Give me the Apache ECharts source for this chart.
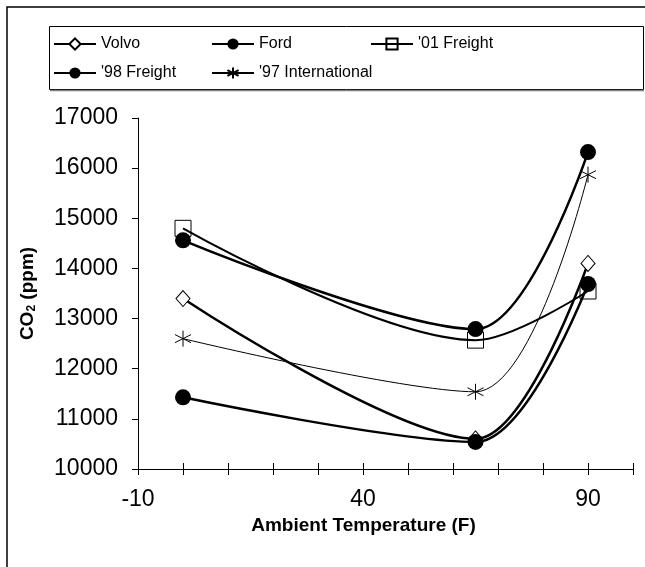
<!DOCTYPE html>
<html>
<head>
<meta charset="utf-8">
<script src="https://cdn.jsdelivr.net/npm/echarts@6/dist/echarts.min.js"></script>
<style>
  html, body { margin: 0; padding: 0; background: #fff; }
  #chart { width: 645px; height: 567px; }
</style>
</head>
<body>
<div id="chart"></div>
<script>
// Ambient temperature (F) at which each truck was measured
const temps = [0, 65, 90];

// CO2 readings (ppm) per truck
const volvo = [13400, 10600, 14100];
const ford = [11430, 10540, 13690];
const freight01 = [14800, 12570, 13550];
const freight98 = [14560, 12790, 16320];
const intl97 = [12600, 11540, 15870];

const seriesNames = ['Volvo', 'Ford', "'01 Freight", "'98 Freight", "'97 International"];

// X axis labels shown only at these values
const xLabelValues = [-10, 40, 90];

const FONT = '"Liberation Sans", Arial, sans-serif';
const STAR = 'path://M50,0L50,100M6,25L94,75M6,75L94,25';

function pairs(ys) {
  return temps.map((t, i) => [t, ys[i]]);
}

function lineSeries(name, ys, opts) {
  return {
    name: name,
    type: 'line',
    data: pairs(ys),
    smooth: 0.32,
    symbol: opts.symbol,
    symbolSize: opts.size,
    showAllSymbol: true,
    lineStyle: { color: '#000', width: opts.width },
    itemStyle: {
      color: opts.fill,
      borderColor: '#000',
      borderWidth: opts.border
    },
    emphasis: { disabled: true },
    animation: false,
    z: 3
  };
}

function legendAt(name, left, top) {
  return {
    data: [name],
    left: left,
    top: top,
    padding: 0,
    orient: 'horizontal',
    itemWidth: 42,
    itemHeight: 14,
    itemGap: 0,
    selectedMode: false,
    textStyle: { fontFamily: FONT, fontSize: 16, color: '#000' }
  };
}

const chart = echarts.init(document.getElementById('chart'), null, { renderer: 'canvas' });

const tickStyle = { color: '#000', width: 1 };

chart.setOption({
  backgroundColor: '#fff',
  animation: false,
  graphic: [
    {
      type: 'rect',
      shape: { x: 7, y: 7, width: 680, height: 600 },
      style: { fill: 'none', stroke: '#000', lineWidth: 1.5 },
      z: 0
    },
    {
      type: 'rect',
      shape: { x: 49.5, y: 26.5, width: 594, height: 63 },
      style: { fill: '#fff', stroke: '#000', lineWidth: 1 },
      z: 0
    },
    {
      type: 'line',
      shape: { x1: 50, y1: 90.5, x2: 644, y2: 90.5 },
      style: { stroke: '#808080', lineWidth: 1.5 },
      z: 0
    }
  ],
  legend: [
    legendAt(seriesNames[0], 53, 36),
    legendAt(seriesNames[1], 211, 36),
    legendAt(seriesNames[2], 370, 36),
    legendAt(seriesNames[3], 53, 65),
    legendAt(seriesNames[4], 211, 65)
  ],
  grid: { left: 138, right: 12, top: 118, bottom: 98, containLabel: false },
  xAxis: [
    {
      type: 'value',
      min: -10,
      max: 100,
      interval: 10,
      name: 'Ambient Temperature (F)',
      nameLocation: 'middle',
      nameGap: 37,
      nameTextStyle: {
        fontFamily: FONT, fontSize: 19, fontWeight: 'bold', color: '#000',
        padding: [0, 44, 0, 0]
      },
      axisLine: { show: true, onZero: false, lineStyle: { color: '#000', width: 1 } },
      axisTick: { show: true, inside: false, length: 6, lineStyle: tickStyle },
      axisLabel: {
        fontFamily: FONT, fontSize: 23, color: '#000', margin: 19,
        formatter: v => (xLabelValues.indexOf(v) >= 0 ? String(v) : '')
      },
      splitLine: { show: false }
    },
    {
      // upper halves of the crossing tick marks
      type: 'value',
      min: -10,
      max: 100,
      interval: 10,
      position: 'bottom',
      offset: -6,
      axisLine: { show: false, onZero: false },
      axisTick: { show: true, inside: false, length: 6, lineStyle: tickStyle },
      axisLabel: { show: false },
      splitLine: { show: false }
    }
  ],
  yAxis: {
    type: 'value',
    min: 10000,
    max: 17000,
    interval: 1000,
    name: '{a|CO}{s|2}{a| (ppm)}',
    nameLocation: 'middle',
    nameGap: 100,
    nameRotate: 90,
    nameTextStyle: {
      rich: {
        a: { fontFamily: FONT, fontSize: 19, fontWeight: 'bold', color: '#000' },
        s: { fontFamily: FONT, fontSize: 12, fontWeight: 'bold', color: '#000', verticalAlign: 'bottom', padding: [9, 0, 0, 0] }
      }
    },
    axisLine: { show: true, onZero: false, lineStyle: { color: '#000', width: 1 } },
    axisTick: { show: true, inside: false, length: 6, lineStyle: tickStyle },
    axisLabel: {
      fontFamily: FONT, fontSize: 23, color: '#000', margin: 20,
      formatter: v => String(v)
    },
    splitLine: { show: false }
  },
  series: [
    lineSeries(seriesNames[0], volvo, { symbol: 'diamond', size: [14, 16], fill: '#fff', border: 1, width: 2.5 }),
    lineSeries(seriesNames[1], ford, { symbol: 'circle', size: 16, fill: '#000', border: 0, width: 2.5 }),
    lineSeries(seriesNames[2], freight01, { symbol: 'rect', size: 16, fill: 'rgba(255,255,255,0)', border: 1, width: 2 }),
    lineSeries(seriesNames[3], freight98, { symbol: 'circle', size: 16, fill: '#000', border: 0, width: 2.5 }),
    lineSeries(seriesNames[4], intl97, { symbol: STAR, size: 16, fill: 'rgba(255,255,255,0)', border: 1, width: 1 })
  ]
});
</script>
</body>
</html>
